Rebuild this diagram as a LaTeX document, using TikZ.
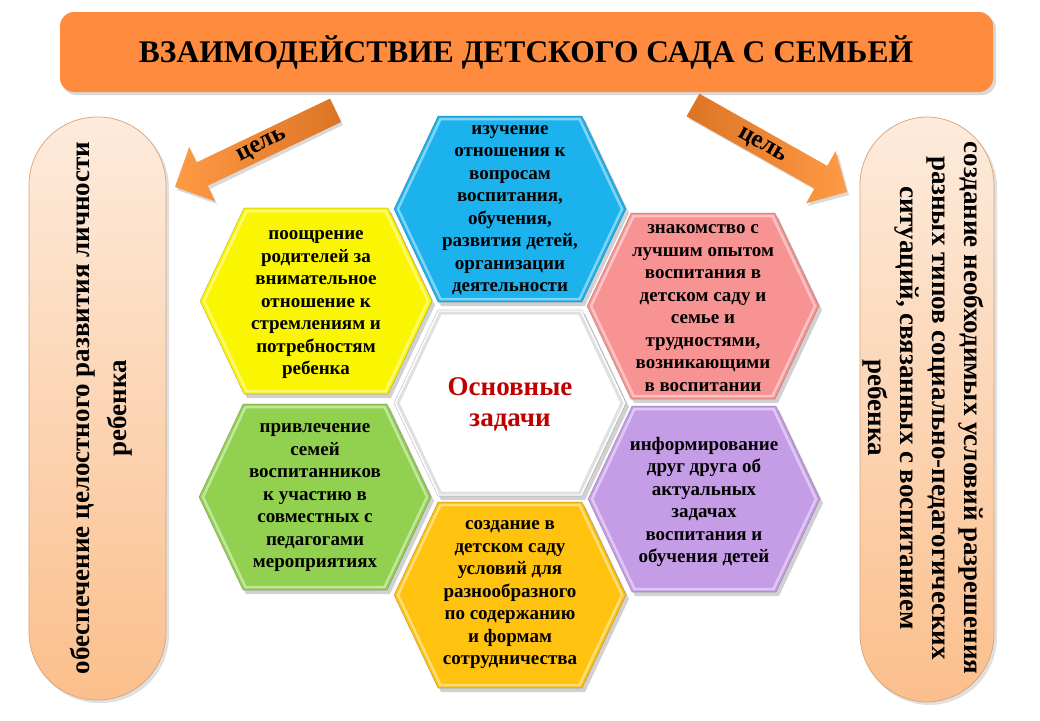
\documentclass[tikz,border=0pt]{standalone}
\usepackage{fontspec}
\setmainfont{Liberation Serif}
\usetikzlibrary{calc}
\definecolor{titleor}{HTML}{FF8C3E}
\definecolor{hblue}{HTML}{1CB2EE}
\definecolor{hyellow}{HTML}{FAF500}
\definecolor{hpink}{HTML}{F89393}
\definecolor{hgreen}{HTML}{92D050}
\definecolor{hpurple}{HTML}{C59CE6}
\definecolor{horange}{HTML}{FFC20E}
\definecolor{hwhite}{HTML}{FFFFFF}
\definecolor{capt}{HTML}{FDEBDC}
\definecolor{capb}{HTML}{FBBF8C}
\definecolor{capline}{HTML}{D7A27A}
\definecolor{arrlight}{HTML}{FF9A45}
\definecolor{arrdark}{HTML}{DC7424}
\definecolor{darkred}{HTML}{C00000}
\newcommand{\hexshape}[2]{%
  \begin{scope}[shift={(#1)}]
    \fill[black,opacity=0.18] (-113,4) -- (-69,-89) -- (75,-89) -- (119,4) -- (75,97) -- (-69,97) -- cycle;
    \fill[#2] (-116,0) -- (-72,-93) -- (72,-93) -- (116,0) -- (72,93) -- (-72,93) -- cycle;
    \draw[white,opacity=0.45,line width=2.5pt] (-112,0) -- (-69.5,-90) -- (69.5,-90) -- (112,0) -- (69.5,90) -- (-69.5,90) -- cycle;
    \draw[black,opacity=0.22,line width=0.6pt] (-116,0) -- (-72,-93) -- (72,-93) -- (116,0) -- (72,93) -- (-72,93) -- cycle;
  \end{scope}}
\tikzset{
  titletext/.style={font=\fontsize{31.5}{35}\selectfont\bfseries, text=black},
  hextext/.style={font=\fontsize{19}{22.5}\selectfont\bfseries, align=center, text=black, inner sep=0pt},
  centertext/.style={font=\fontsize{27}{31}\selectfont\bfseries, align=center, text=darkred, inner sep=0pt},
  captext/.style={font=\fontsize{27}{37}\selectfont\bfseries, align=center, text=black, inner sep=0pt},
  goaltext/.style={font=\fontsize{25}{28}\selectfont\bfseries, text=black, inner sep=0pt},
  capsule/.style={top color=capt, bottom color=capb, draw=capline, line width=0.7pt, rounded corners=68pt},
}
\begin{document}
\begin{tikzpicture}[x=1pt,y=-1pt]
\useasboundingbox (0,0) rectangle (1040,720);
\fill[white] (0,0) rectangle (1040,720);

% title bar
\fill[black,opacity=0.15,rounded corners=14pt] (62,15) rectangle (996,95);
\fill[titleor,rounded corners=14pt] (60,12) rectangle (993,92);
\node[titletext] (title) at (526,52) {ВЗАИМОДЕЙСТВИЕ ДЕТСКОГО САДА С СЕМЬЕЙ};

% capsules
\fill[black,opacity=0.12,rounded corners=68pt] (31,120) rectangle (169,703);
\shade[capsule] (29,117) rectangle (166,700);
\fill[black,opacity=0.12,rounded corners=68pt] (862,120) rectangle (997,705);
\shade[capsule] (860,117) rectangle (994,702);
\node[captext,rotate=90] (capL) at (101,408) {обеспечение целостного развития личности\\ребенка};
\node[captext,rotate=-90,font=\fontsize{27}{32}\selectfont\bfseries] (capR) at (923,408) {создание необходимых условий разрешения\\разных типов социально-педагогических\\ситуаций, связанных с воспитанием\\ребенка};

% block arrows
\fill[black,opacity=0.15] (177,190) -- (217,204) -- (210,189) -- (343,125) -- (332,102) -- (199,165) -- (191,150) -- cycle;
\shade[left color=arrlight,right color=arrdark] (175,187) -- (215,201.2) -- (207.7,185.8) -- (341.2,122) -- (330,98.6) -- (196.5,162.4) -- (189.2,147) -- cycle;
\fill[black,opacity=0.15] (849,195) -- (808,206) -- (817,191) -- (689,119) -- (702,97) -- (830,169) -- (838,154) -- cycle;
\shade[left color=arrdark,right color=arrlight] (847,192) -- (806.1,203.3) -- (814.5,188.5) -- (686.6,116.3) -- (699.4,93.7) -- (827.3,165.9) -- (835.6,151.1) -- cycle;
\node[goaltext,rotate=27] (goalL) at (262,146) {цель};
\node[goaltext,rotate=-29] (goalR) at (762,146) {цель};

% hexagons
\coordinate (hb) at (510,209);
\coordinate (hy) at (316,301);
\coordinate (hp) at (703,306);
\coordinate (hv) at (704,499);
\coordinate (hg) at (315,497);
\coordinate (ho) at (510,595);
\coordinate (hc) at (510,403);
\hexshape{hb}{hblue}
\hexshape{hy}{hyellow}
\hexshape{hp}{hpink}
\hexshape{hv}{hpurple}
\hexshape{hg}{hgreen}
\hexshape{ho}{horange}
\hexshape{hc}{hwhite}
\begin{scope}[shift={(hc)}]
  \draw[black!12,line width=3pt] (-112,0) -- (-69.5,-90) -- (69.5,-90) -- (112,0) -- (69.5,90) -- (-69.5,90) -- cycle;
\end{scope}

\node[hextext] (tb) at ($(hb)+(0,1)$) {изучение\\отношения к\\вопросам\\воспитания,\\обучения,\\развития детей,\\организации\\деятельности};
\node[hextext] (ty) at ($(hy)+(0,4)$) {поощрение\\родителей за\\внимательное\\отношение к\\стремлениям и\\потребностям\\ребенка};
\node[hextext] (tp) at ($(hp)+(0,2)$) {знакомство с\\лучшим опытом\\воспитания в\\детском саду и\\семье и\\трудностями,\\возникающими\\в воспитании};
\node[hextext] (tv) at ($(hv)+(0,3)$) {информирование\\друг друга об\\актуальных\\задачах\\воспитания и\\обучения детей};
\node[hextext] (tg) at ($(hg)+(0,1)$) {привлечение\\семей\\воспитанников\\к участию в\\совместных с\\педагогами\\мероприятиях};
\node[hextext] (to) at ($(ho)+(0,0)$) {создание в\\детском саду\\условий для\\разнообразного\\по содержанию\\и формам\\сотрудничества};
\node[centertext] (tc) at ($(hc)+(0,1)$) {Основные\\задачи};
\end{tikzpicture}
\end{document}
